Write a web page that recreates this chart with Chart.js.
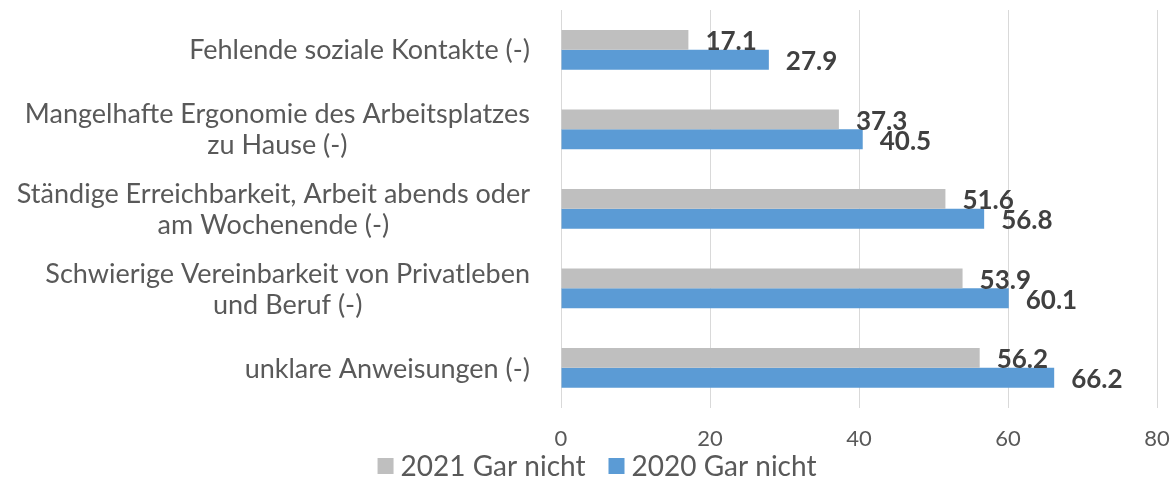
<!DOCTYPE html>
<html lang="de">
<head>
  <meta charset="UTF-8" />
  <title>Belastungen im Homeoffice</title>
  <script src="https://cdn.jsdelivr.net/npm/chart.js@4.4.0/dist/chart.umd.min.js"></script>
  <style>
    html, body { margin: 0; padding: 0; background: #fff; }
    #wrap { width: 1173px; height: 482px; }
  </style>
</head>
<body>
  <div id="wrap"><canvas id="myChart" width="1173" height="482"></canvas></div>

  <script>
    const categories = [
      ['Fehlende soziale Kontakte (-)'],
      ['Mangelhafte Ergonomie des Arbeitsplatzes', 'zu Hause (-)'],
      ['Ständige Erreichbarkeit, Arbeit abends oder', 'am Wochenende (-)'],
      ['Schwierige Vereinbarkeit von Privatleben', 'und Beruf (-)'],
      ['unklare Anweisungen (-)']
    ];
    const values2021 = [17.1, 37.3, 51.6, 53.9, 56.2];
    const values2020 = [27.9, 40.5, 56.8, 60.1, 66.2];
    const xTicks = [0, 20, 40, 60, 80];

    const FONT = 'Lato, "Open Sans", sans-serif';
    const TEXT = '#595959';

    // category labels: block right-aligned next to the axis, lines centred inside the block
    const categoryLabels = {
      id: 'categoryLabels',
      afterDraw(chart) {
        const ctx = chart.ctx;
        const yScale = chart.scales.y;
        const right = chart.chartArea.left - 31;
        const lineH = 31;
        ctx.save();
        ctx.font = '27px ' + FONT;
        ctx.fillStyle = TEXT;
        ctx.textAlign = 'center';
        ctx.textBaseline = 'middle';
        categories.forEach((lines, i) => {
          const widest = Math.max(...lines.map(l => ctx.measureText(l).width));
          const cx = right - widest / 2;
          const cy = yScale.getPixelForTick(i) + 1;
          const top = cy - (lines.length - 1) * lineH / 2;
          lines.forEach((l, j) => ctx.fillText(l, cx, top + j * lineH));
        });
        ctx.restore();
      }
    };

    // value labels just past the end of each bar
    const valueLabels = {
      id: 'valueLabels',
      afterDatasetsDraw(chart) {
        const ctx = chart.ctx;
        ctx.save();
        ctx.font = 'bold 26px ' + FONT;
        ctx.fillStyle = '#404040';
        ctx.textAlign = 'left';
        ctx.textBaseline = 'middle';
        chart.data.datasets.forEach((ds, di) => {
          chart.getDatasetMeta(di).data.forEach((bar, i) => {
            ctx.fillText(ds.data[i].toFixed(1), bar.x + 17, bar.y + 2);
          });
        });
        ctx.restore();
      }
    };

    // legend row under the axis: square swatch + series name
    const bottomLegend = {
      id: 'bottomLegend',
      afterDraw(chart) {
        const ctx = chart.ctx;
        const box = 16, gap = 7, spacing = 23, cy = 466;
        ctx.save();
        ctx.font = '28px ' + FONT;
        ctx.textBaseline = 'middle';
        ctx.textAlign = 'left';
        const items = chart.data.datasets.map(ds => ({
          text: ds.label, color: ds.backgroundColor, w: ctx.measureText(ds.label).width
        }));
        const total = items.reduce((s, it) => s + box + gap + it.w, 0) + spacing * (items.length - 1);
        let x = 597 - total / 2;
        items.forEach(it => {
          ctx.fillStyle = it.color;
          ctx.fillRect(x, cy - box / 2, box, box);
          ctx.fillStyle = TEXT;
          ctx.fillText(it.text, x + box + gap, cy + 1);
          x += box + gap + it.w + spacing;
        });
        ctx.restore();
      }
    };

    const ctx = document.getElementById('myChart').getContext('2d');
    new Chart(ctx, {
      type: 'bar',
      data: {
        labels: categories,
        datasets: [
          {
            label: '2021 Gar nicht',
            data: values2021,
            backgroundColor: '#BFBFBF',
            barPercentage: 1,
            categoryPercentage: 0.5
          },
          {
            label: '2020 Gar nicht',
            data: values2020,
            backgroundColor: '#5B9BD5',
            barPercentage: 1,
            categoryPercentage: 0.5
          }
        ]
      },
      options: {
        indexAxis: 'y',
        responsive: false,
        animation: false,
        layout: { padding: { top: 10, right: 0, left: 20, bottom: 12 } },
        scales: {
          x: {
            min: 0,
            max: 80,
            afterBuildTicks(scale) {
              scale.ticks = xTicks.map(v => ({ value: v }));
            },
            afterFit(scale) { scale.paddingRight = 16; },
            grid: { color: '#D9D9D9', lineWidth: 1, drawTicks: false },
            border: { display: false },
            ticks: {
              color: TEXT,
              font: { family: FONT, size: 22 },
              padding: 18,
              maxRotation: 0
            }
          },
          y: {
            grid: { display: false },
            border: { display: false },
            ticks: { display: false },
            afterFit(scale) { scale.width = 541; }
          }
        },
        plugins: {
          legend: { display: false },
          tooltip: { enabled: false }
        }
      },
      plugins: [categoryLabels, valueLabels, bottomLegend]
    });
  </script>
</body>
</html>
